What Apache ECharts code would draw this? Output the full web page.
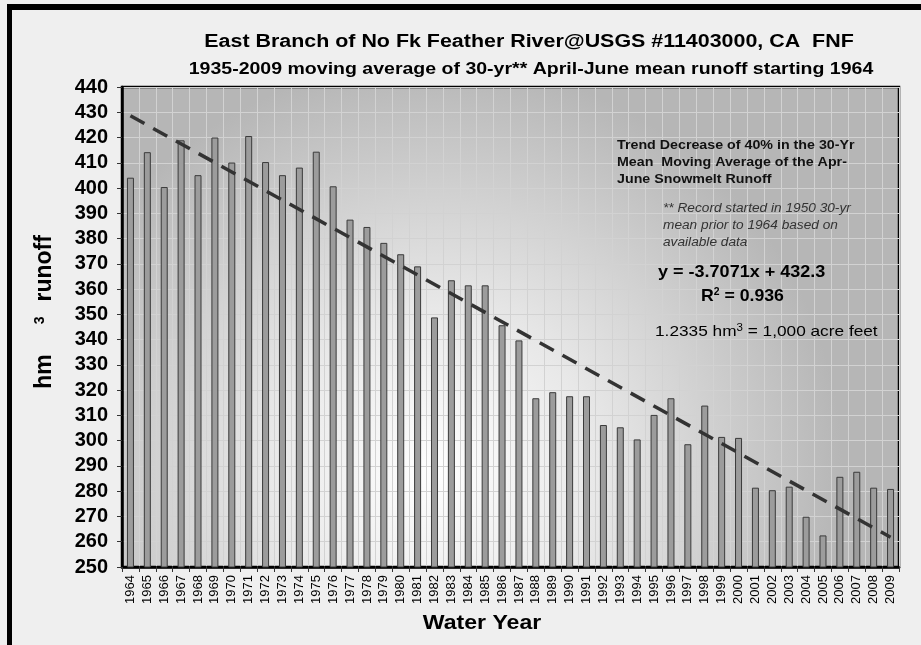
<!DOCTYPE html>
<html>
<head>
<meta charset="utf-8">
<script src="https://cdn.jsdelivr.net/npm/echarts@6/dist/echarts.min.js"></script>
<style>
  html, body { margin: 0; padding: 0; background: #efefef; }
  #chart { width: 921px; height: 645px; }
</style>
</head>
<body>
<div id="chart"></div>
<script>
// water years on the x axis
var years = ['1964', '1965', '1966', '1967', '1968', '1969', '1970', '1971', '1972', '1973',
  '1974', '1975', '1976', '1977', '1978', '1979', '1980', '1981', '1982', '1983',
  '1984', '1985', '1986', '1987', '1988', '1989', '1990', '1991', '1992', '1993',
  '1994', '1995', '1996', '1997', '1998', '1999', '2000', '2001', '2002', '2003',
  '2004', '2005', '2006', '2007', '2008', '2009'];

// 30-yr moving average of Apr-June runoff, hm3
var runoff = [404.1, 414.2, 400.4, 418.9, 405.1, 420.0, 410.1, 420.6, 410.3, 405.1,
  408.1, 414.4, 400.7, 387.5, 384.6, 378.3, 373.8, 369.0, 348.8, 363.5,
  361.5, 361.5, 345.7, 339.7, 316.8, 319.2, 317.6, 317.6, 306.2, 305.3,
  300.5, 310.2, 316.8, 298.6, 313.9, 301.5, 301.1, 281.4, 280.4, 281.8,
  269.9, 262.5, 285.7, 287.7, 281.4, 280.9];

// linear trend end points (y = -3.7071x + 432.3)
var trendYears = ['1964', '2009'];
var trendValues = [428.6, 261.8];

var yTicks = { min: 250, max: 440, step: 10 };

var font = 'Liberation Sans, Arial, sans-serif';

var chart = echarts.init(document.getElementById('chart'), null, { renderer: 'canvas' });

var option = {
  backgroundColor: '#efefef',
  animation: false,
  grid: {
    left: 122,
    right: 22,
    top: 87,
    bottom: 78,
    show: true,
    borderColor: '#000',
    borderWidth: 2.5,
    backgroundColor: {
      type: 'radial',
      x: 0.4, y: 0.8, r: 0.85,
      colorStops: [
        { offset: 0, color: '#ffffff' },
        { offset: 0.4, color: '#e8e8e8' },
        { offset: 1, color: '#b6b6b6' }
      ]
    }
  },
  xAxis: {
    type: 'category',
    data: years,
    axisLine: { lineStyle: { color: '#000', width: 2.5 } },
    axisTick: { show: true, length: 5, lineStyle: { color: '#333' } },
    axisLabel: {
      rotate: 90,
      color: '#000',
      fontSize: 13,
      fontFamily: font,
      margin: 8,
      interval: 0
    },
    splitLine: { show: true, lineStyle: { color: '#d2d2d2', width: 1 } }
  },
  yAxis: {
    type: 'value',
    min: yTicks.min,
    max: yTicks.max,
    interval: yTicks.step,
    axisLine: { show: true, lineStyle: { color: '#000', width: 2.5 } },
    axisTick: { show: true, length: 5, lineStyle: { color: '#333' } },
    axisLabel: {
      color: '#000',
      fontSize: 20,
      fontWeight: 'bold',
      fontFamily: font,
      margin: 14
    },
    splitLine: { show: true, lineStyle: { color: '#d2d2d2', width: 1 } }
  },
  series: [
    {
      name: 'runoff',
      type: 'bar',
      data: runoff,
      barWidth: 7,
      itemStyle: {
        color: '#9c9c9c',
        borderColor: '#3a3a3a',
        borderWidth: 1
      },
      markLine: {
        silent: true,
        symbol: ['none', 'none'],
        label: { show: false },
        lineStyle: { color: '#333', width: 3.5, type: [16, 10] },
        data: [
          [
            { coord: [trendYears[0], trendValues[0]] },
            { coord: [trendYears[1], trendValues[1]] }
          ]
        ]
      }
    }
  ],
  graphic: [
    // black frame on top and left
    { type: 'rect', left: 7, top: 4, z: 50, shape: { width: 914, height: 6 }, style: { fill: '#000' } },
    { type: 'rect', left: 7, top: 4, z: 50, shape: { width: 5, height: 641 }, style: { fill: '#000' } },
    {
      type: 'text', x: 529, y: 42, z: 50, scaleX: 1.19,
      style: {
        text: 'East Branch of No Fk Feather River@USGS #11403000, CA  FNF',
        font: 'bold 18px ' + font, fill: '#000', align: 'center', verticalAlign: 'middle'
      }
    },
    {
      type: 'text', x: 531, y: 70, z: 50, scaleX: 1.22,
      style: {
        text: '1935-2009 moving average of 30-yr** April-June mean runoff starting 1964',
        font: 'bold 16px ' + font, fill: '#000', align: 'center', verticalAlign: 'middle'
      }
    },
    {
      type: 'text', x: 45, y: 312, z: 50, rotation: Math.PI / 2,
      style: {
        text: 'hm{s|3}runoff',
        font: 'bold 23px ' + font, fill: '#000', align: 'center', verticalAlign: 'middle',
        rich: { s: { font: 'bold 14px ' + font, fill: '#000', verticalAlign: 'top', padding: [0, 15, 10, 30] } }
      }
    },
    {
      type: 'text', x: 482, y: 623, z: 50, scaleX: 1.1,
      style: {
        text: 'Water Year',
        font: 'bold 21px ' + font, fill: '#000', align: 'center', verticalAlign: 'middle'
      }
    },
    {
      type: 'text', x: 617, y: 137, z: 50, scaleX: 1.14,
      style: {
        text: 'Trend Decrease of 40% in the 30-Yr\nMean  Moving Average of the Apr-\nJune Snowmelt Runoff',
        font: 'bold 12.5px ' + font, fill: '#111', lineHeight: 17
      }
    },
    {
      type: 'text', x: 663, y: 200, z: 50, scaleX: 1.14,
      style: {
        text: '** Record started in 1950 30-yr\nmean prior to 1964 based on\navailable data',
        font: 'italic 12px ' + font, fill: '#333', lineHeight: 17
      }
    },
    {
      type: 'text', x: 658, y: 272, z: 50, scaleX: 1.06,
      style: {
        text: 'y = -3.7071x + 432.3',
        font: 'bold 17px ' + font, fill: '#000', verticalAlign: 'middle'
      }
    },
    {
      type: 'text', x: 701, y: 296, z: 50, scaleX: 1.04,
      style: {
        text: 'R{s|2} = 0.936',
        font: 'bold 17px ' + font, fill: '#000', verticalAlign: 'middle',
        rich: { s: { font: 'bold 10px ' + font, fill: '#000', verticalAlign: 'top', padding: [0, 0, 8, 0] } }
      }
    },
    {
      type: 'text', x: 655, y: 332, z: 50, scaleX: 1.15,
      style: {
        text: '1.2335 hm{s|3} = 1,000 acre feet',
        font: '15px ' + font, fill: '#000', verticalAlign: 'middle',
        rich: { s: { font: '10px ' + font, fill: '#000', verticalAlign: 'top', padding: [0, 0, 8, 0] } }
      }
    }
  ]
};

chart.setOption(option);
</script>
</body>
</html>
